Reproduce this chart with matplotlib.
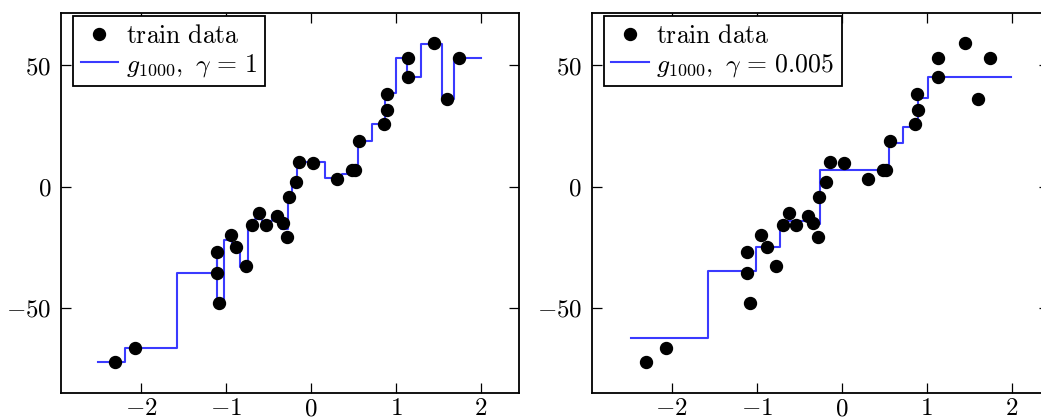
import matplotlib
matplotlib.use("Agg")
import matplotlib.pyplot as plt
from matplotlib.ticker import FuncFormatter, FixedLocator

plt.rcParams['mathtext.fontset'] = 'cm'
plt.rcParams['font.family'] = ['DejaVu Serif']

# training data
x_train = [-2.306, -2.067, -1.109, -1.109, -1.079, -0.945, -0.882, -0.768, -0.694, -0.615,
           -0.533, -0.396, -0.333, -0.279, -0.262, -0.180, -0.141, 0.027, 0.306, 0.482,
           0.518, 0.568, 0.859, 0.898, 0.891, 1.138, 1.138, 1.451, 1.604, 1.738]
y_train = [-72.4, -66.5, -27.2, -35.7, -48.2, -20.0, -25.1, -32.7, -16.0, -11.1,
           -15.8, -12.1, -14.9, -20.7, -4.2, 1.9, 10.1, 9.8, 3.1, 6.8,
           6.8, 18.7, 25.8, 31.7, 38.2, 53.2, 45.1, 59.1, 36.1, 52.9]

# g_1000, gamma = 1 (step edges and levels)
edges_g1 = [-2.50, -2.185, -1.58, -1.109, -1.10, -1.02, -0.93, -0.835, -0.738, -0.66,
            -0.58, -0.462, -0.404, -0.35, -0.267, -0.22, -0.161, 0.165, 0.36, 0.42,
            0.557, 0.714, 0.871, 1.0, 1.133, 1.29, 1.538, 1.682, 2.0]
levels_g1 = [-72.4, -66.5, -35.7, -27.0, -48.0, -22.0, -24.8, -33.1, -15.8, -13.4,
             -14.2, -11.8, -14.5, -17.5, -4.0, 1.7, 10.2, 3.4, 5.0, 6.8,
             18.8, 25.8, 38.7, 52.9, 45.1, 58.8, 36.1, 52.9]

# g_1000, gamma = 0.005
edges_g2 = [-2.483, -1.573, -1.006, -0.725, -0.32, -0.256, 0.553, 0.721, 0.90, 1.018, 1.99]
levels_g2 = [-62.4, -34.7, -24.8, -14.2, -15.5, 6.8, 17.8, 24.7, 36.6, 45.1]

labels = [r'$g_{1000},\ \gamma\,=\,1$', r'$g_{1000},\ \gamma\,=\,0.005$']
xticks = [-2, -1, 0, 1, 2]
yticks = [-50, 0, 50]

W, H = 1041, 420
fig = plt.figure(figsize=(W / 100, H / 100), dpi=100)
ax_l = fig.add_axes([61 / W, (H - 393.3) / H, 457.5 / W, 380.6 / H])
ax_r = fig.add_axes([591.7 / W, (H - 393.3) / H, 457.5 / W, 380.6 / H])

tick_fs = 18
leg_fs = 18.5
fmt = FuncFormatter(lambda v, p: r'$%g$' % v)
for ax, edges, levels, lab in [(ax_l, edges_g1, levels_g1, labels[0]),
                               (ax_r, edges_g2, levels_g2, labels[1])]:
    ax.plot(x_train, y_train, 'o', color='black', markersize=8.6, zorder=3,
            label=r'$\mathrm{train\ data}$')
    ax.step(edges, levels + [levels[-1]], where='post', color='#3a3aff',
            linewidth=1.5, zorder=2, label=lab)
    ax.set_xlim(-2.94, 2.44)
    ax.set_ylim(-85.3, 71.7)
    ax.xaxis.set_major_locator(FixedLocator(xticks))
    ax.yaxis.set_major_locator(FixedLocator(yticks))
    ax.xaxis.set_major_formatter(fmt)
    ax.yaxis.set_major_formatter(fmt)
    ax.tick_params(direction='in', length=7, width=0.9, top=True, right=True,
                   labelsize=tick_fs)
    ax.tick_params(axis='x', pad=3)
    ax.tick_params(axis='y', pad=7)
    for s in ax.spines.values():
        s.set_linewidth(1.3)
    leg = ax.legend(loc='upper left', bbox_to_anchor=(0.026, 0.992), borderaxespad=0,
                    fontsize=leg_fs, frameon=True, fancybox=False, framealpha=1,
                    edgecolor='black', handlelength=1.45, handletextpad=0.3,
                    labelspacing=0.1, borderpad=0.3, numpoints=1)
    leg.get_frame().set_linewidth(1.3)

fig.savefig('out.png', dpi=100)
